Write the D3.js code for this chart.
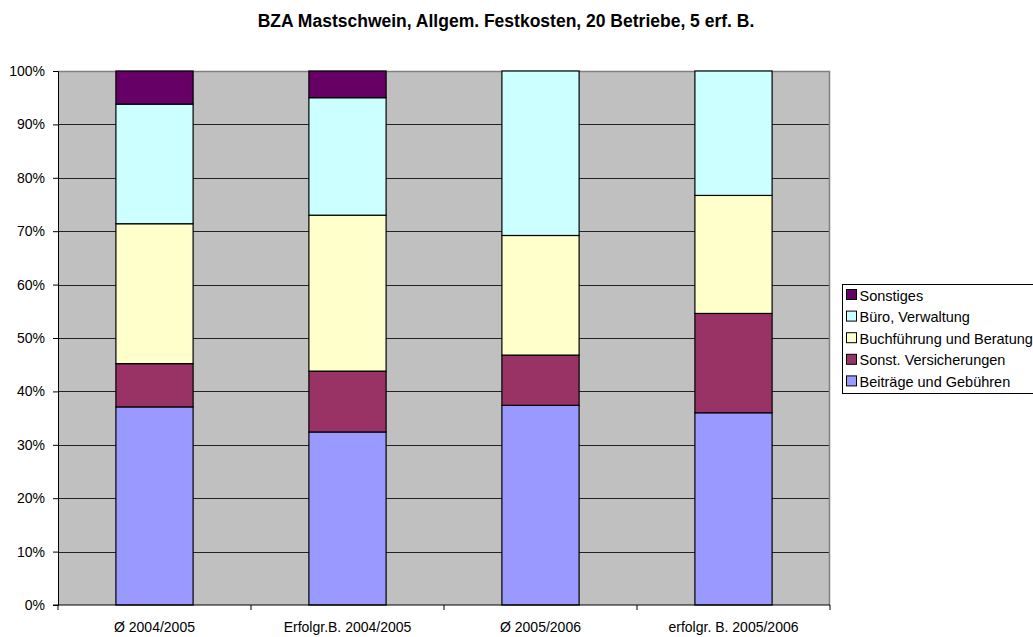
<!DOCTYPE html>
<html>
<head>
<meta charset="utf-8">
<script src="https://cdn.jsdelivr.net/npm/d3@7"></script>
<style>
  body { margin: 0; background: #fff; }
  svg { display: block; font-family: "Liberation Sans", Arial, sans-serif; }
</style>
</head>
<body>
<div id="chart"></div>
<script>
const categories = ["Ø 2004/2005", "Erfolgr.B. 2004/2005", "Ø 2005/2006", "erfolgr. B. 2005/2006"];
const seriesNames = ["Beiträge und Gebühren", "Sonst. Versicherungen", "Buchführung und Beratung", "Büro, Verwaltung", "Sonstiges"];
const seriesColors = ["#9999FF", "#993366", "#FFFFCC", "#CCFFFF", "#660066"];
// Anteile in Prozent je Kategorie
const beitraege = [37.1, 32.4, 37.4, 36.0];
const versicherungen = [8.1, 11.4, 9.4, 18.6];
const buchfuehrung = [26.2, 29.2, 22.4, 22.1];
const buero = [22.4, 22.0, 30.8, 23.3];
const sonstiges = [6.2, 5.0, 0, 0];
const yTicks = [0, 10, 20, 30, 40, 50, 60, 70, 80, 90, 100];

const width = 1033, height = 637;
const margin = {left: 58, right: 203, top: 71, bottom: 32};

const series = [beitraege, versicherungen, buchfuehrung, buero, sonstiges];
const table = categories.map((c, i) => {
  const row = {cat: c};
  seriesNames.forEach((s, j) => row[s] = series[j][i]);
  return row;
});
const stacked = d3.stack().keys(seriesNames)(table);

const x = d3.scaleBand()
  .domain(categories)
  .range([margin.left, width - margin.right])
  .paddingInner(0.6)
  .paddingOuter(0.3);
const y = d3.scaleLinear()
  .domain([0, 100])
  .range([height - margin.bottom, margin.top]);
const color = d3.scaleOrdinal(seriesNames, seriesColors);

const svg = d3.select("#chart").append("svg")
  .attr("width", width)
  .attr("height", height);

// Plotfläche
svg.append("rect")
  .attr("x", margin.left)
  .attr("y", margin.top)
  .attr("width", width - margin.right - margin.left)
  .attr("height", y(0) - margin.top)
  .attr("fill", "#C0C0C0");

// Gitterlinien
svg.append("g")
  .selectAll("line")
  .data(yTicks.slice(1))
  .join("line")
    .attr("x1", margin.left)
    .attr("x2", width - margin.right)
    .attr("y1", d => Math.round(y(d)) + 0.5)
    .attr("y2", d => Math.round(y(d)) + 0.5)
    .attr("stroke", "#222")
    .attr("stroke-width", 1);

// Rahmen oben/rechts
svg.append("path")
  .attr("d", `M${margin.left},${margin.top + 0.5}H${width - margin.right - 0.5}V${y(0)}`)
  .attr("fill", "none")
  .attr("stroke", "#808080")
  .attr("stroke-width", 1.5);

// Balken
svg.append("g")
  .selectAll("g")
  .data(stacked)
  .join("g")
    .attr("fill", d => color(d.key))
  .selectAll("rect")
  .data(d => d.filter(p => p[1] - p[0] > 0))
  .join("rect")
    .attr("x", d => x(d.data.cat))
    .attr("y", d => y(d[1]))
    .attr("width", x.bandwidth())
    .attr("height", d => y(d[0]) - y(d[1]))
    .attr("stroke", "#000")
    .attr("stroke-width", 1.2);

// Y-Achse
const yAxis = svg.append("g")
  .attr("transform", `translate(${margin.left},0)`)
  .call(d3.axisLeft(y).tickValues(yTicks).tickFormat(d => d + "%").tickSize(5).tickPadding(8));
yAxis.select(".domain").attr("stroke", "#000");
yAxis.selectAll(".tick line").attr("stroke", "#000");
yAxis.selectAll("text").attr("font-size", 14).attr("fill", "#000")
  .attr("font-family", "Liberation Sans, Arial, sans-serif");

// X-Achse
const xg = svg.append("g");
xg.append("line")
  .attr("x1", margin.left - 5)
  .attr("x2", width - margin.right)
  .attr("y1", y(0))
  .attr("y2", y(0))
  .attr("stroke", "#000");
const bounds = d3.range(categories.length + 1).map(i => margin.left + i * x.step());
xg.selectAll(".tk")
  .data(bounds)
  .join("line")
    .attr("x1", d => d)
    .attr("x2", d => d)
    .attr("y1", y(0))
    .attr("y2", y(0) + 5)
    .attr("stroke", "#000");
xg.selectAll("text")
  .data(categories)
  .join("text")
    .attr("x", d => x(d) + x.bandwidth() / 2)
    .attr("y", y(0) + 27)
    .attr("text-anchor", "middle")
    .attr("font-size", 14)
    .text(d => d);

// Titel
svg.append("text")
  .attr("x", 506)
  .attr("y", 27)
  .attr("text-anchor", "middle")
  .attr("font-size", 17.5)
  .attr("font-weight", "bold")
  .text("BZA Mastschwein, Allgem. Festkosten, 20 Betriebe, 5 erf. B.");

// Legende
const lg = svg.append("g").attr("transform", "translate(842,284)");
lg.append("rect")
  .attr("x", 0.5).attr("y", 0.5)
  .attr("width", 220).attr("height", 109)
  .attr("fill", "#fff")
  .attr("stroke", "#000");
const items = lg.selectAll("g.item")
  .data(seriesNames.slice().reverse())
  .join("g")
    .attr("transform", (d, i) => `translate(4.5,${10.5 + i * 21.6})`);
items.append("rect")
  .attr("x", 0).attr("y", -5)
  .attr("width", 10).attr("height", 10)
  .attr("fill", d => color(d))
  .attr("stroke", "#000");
items.append("text")
  .attr("x", 13)
  .attr("y", 6)
  .attr("font-size", 14.5)
  .text(d => d);
</script>
</body>
</html>
